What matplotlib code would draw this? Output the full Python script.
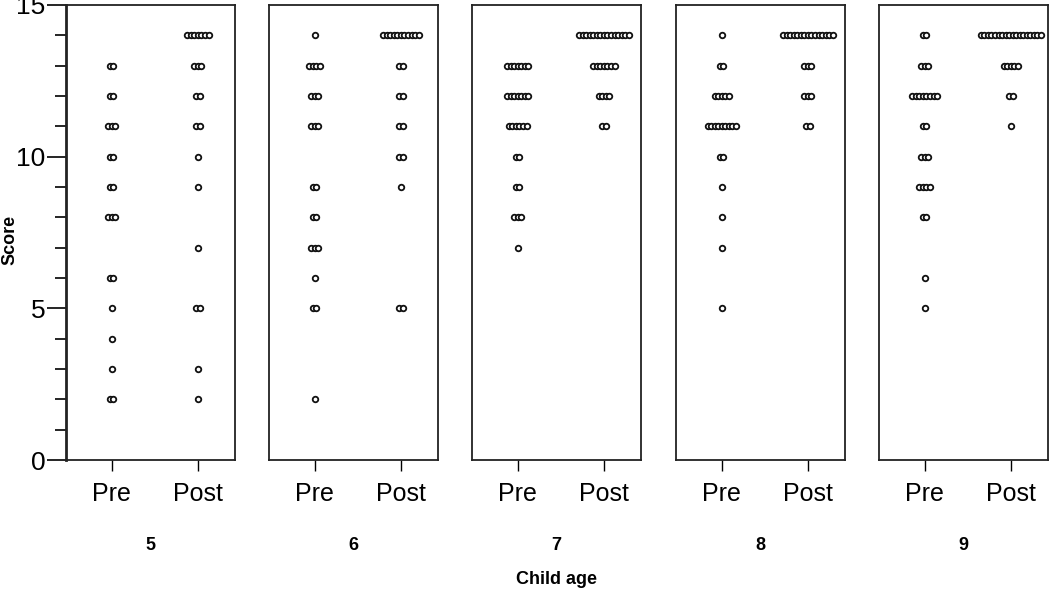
import matplotlib
matplotlib.use("Agg")
import matplotlib.pyplot as plt
import numpy as np

plt.rcParams['font.family'] = ['Liberation Sans', 'DejaVu Sans']

ages = [5, 6, 7, 8, 9]
score_levels = [14, 13, 12, 11, 10, 9, 8, 7, 6, 5, 4, 3, 2]
conditions = ["Pre", "Post"]

# counts of children at each score level (aligned with score_levels)
pre_age5 = [0, 2, 2, 3, 2, 2, 3, 0, 2, 1, 1, 1, 2]
post_age5 = [7, 3, 2, 2, 1, 1, 0, 1, 0, 2, 0, 1, 1]
pre_age6 = [1, 4, 3, 3, 0, 2, 2, 3, 1, 2, 0, 0, 1]
post_age6 = [11, 2, 2, 2, 2, 1, 0, 0, 0, 2, 0, 0, 0]
pre_age7 = [0, 7, 7, 6, 2, 2, 3, 1, 0, 0, 0, 0, 0]
post_age7 = [15, 7, 4, 2, 0, 0, 0, 0, 0, 0, 0, 0, 0]
pre_age8 = [1, 2, 5, 9, 2, 1, 1, 1, 0, 1, 0, 0, 0]
post_age8 = [15, 3, 3, 2, 0, 0, 0, 0, 0, 0, 0, 0, 0]
pre_age9 = [2, 3, 8, 2, 3, 4, 2, 0, 1, 1, 0, 0, 0]
post_age9 = [18, 5, 2, 1, 0, 0, 0, 0, 0, 0, 0, 0, 0]

pre_all = [pre_age5, pre_age6, pre_age7, pre_age8, pre_age9]
post_all = [post_age5, post_age6, post_age7, post_age8, post_age9]

W, H = 1050, 596
fig = plt.figure(figsize=(W / 100, H / 100), dpi=100)

panel_left = [66, 269, 472, 676, 879]
panel_w = 169
ax_bottom = (H - 460) / H
ax_height = 455 / H
spacing = 0.041

for i, age in enumerate(ages):
    ax = fig.add_axes([panel_left[i] / W, ax_bottom, panel_w / W, ax_height])
    for ci, counts in enumerate([pre_all[i], post_all[i]]):
        xc = ci + 1
        for s, n in zip(score_levels, counts):
            if n == 0:
                continue
            xs = xc + (np.arange(n) - (n - 1) / 2) * spacing
            ax.plot(xs, [s] * n, 'o', ms=4.0, mfc='white', mec='#111111', mew=1.3,
                    linestyle='none', zorder=3, clip_on=False)
    ax.set_xlim(0.47, 2.43)
    ax.set_ylim(0, 15)
    ax.set_xticks([1, 2])
    ax.set_xticklabels(conditions, fontsize=18)
    ax.tick_params(axis='x', length=8, width=1, direction='out', pad=8)
    for sp in ax.spines.values():
        sp.set_linewidth(1.3)
        sp.set_color('#222222')
    if i == 0:
        ax.set_yticks([0, 5, 10, 15])
        ax.set_yticks(np.arange(0, 16, 1), minor=True)
        ax.tick_params(axis='y', which='major', length=14, width=1.2, labelsize=19, pad=1)
        ax.tick_params(axis='y', which='minor', length=8, width=1.2)
        ax.spines['left'].set_linewidth(2)
    else:
        ax.set_yticks([])
    cx = (panel_left[i] + panel_w / 2) / W
    fig.text(cx, (H - 545) / H, str(age), ha='center', va='center',
             fontsize=13, fontweight='bold')

fig.text(10 / W, (H - 240) / H, "Score", rotation=90, ha='center', va='center',
         fontsize=13, fontweight='bold')
fig.text((panel_left[0] + panel_left[-1] + panel_w) / 2 / W, (H - 580) / H,
         "Child age", ha='center', va='center', fontsize=13, fontweight='bold')

fig.savefig("out.png", dpi=100)
